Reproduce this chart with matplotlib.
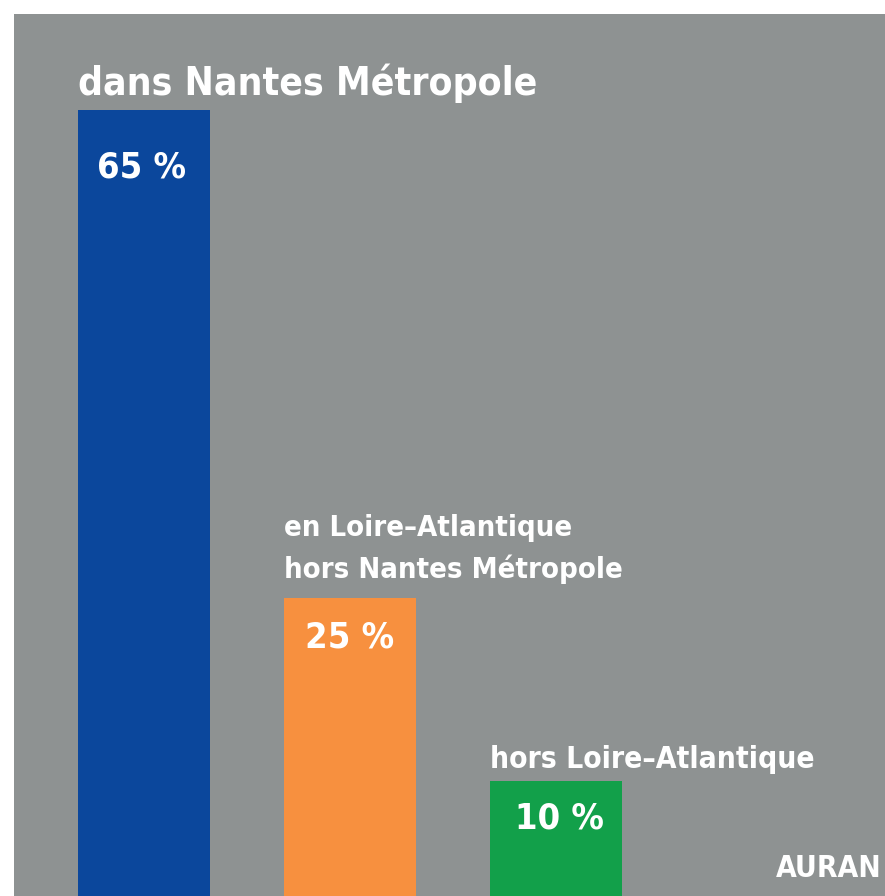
import matplotlib.pyplot as plt

labels = ["dans Nantes Métropole",
          "en Loire–Atlantique\nhors Nantes Métropole",
          "hors Loire–Atlantique"]
values = [65, 25, 10]
pct_labels = ["65 %", "25 %", "10 %"]
colors = ["#0b479c", "#f7903f", "#12a04a"]

plt.rcParams['font.family'] = ['DejaVu Sans']

fig = plt.figure(figsize=(8.85, 8.96), dpi=100)
fig.patch.set_facecolor("white")
ax = fig.add_axes([14/885, 0, 871/885, 882/896])
ax.set_facecolor("#8e9292")

x = list(range(len(values)))
w = 0.64
ax.bar(x, values, width=w, color=colors, align='center')
ax.set_xlim(-0.632, 3.60)
ax.set_ylim(0.57, 72.9)
for s in ax.spines.values():
    s.set_visible(False)
ax.set_xticks([])
ax.set_yticks([])

# offsets in pixels (label above bar, percentage inside)
lab_size = [28, 21, 21.5]
lab_dy = [15, 20, 13]
pct_dx = [19, 21, 25]
pct_dy = [-67, -49, -47]
for i, v in enumerate(values):
    left = x[i] - w/2
    ax.annotate(labels[i], (left, v), xytext=(0, lab_dy[i]),
                textcoords='offset pixels', ha='left', va='baseline',
                color='white', fontsize=lab_size[i], fontweight='bold',
                fontstretch='condensed', linespacing=1.55)
    ax.annotate(pct_labels[i], (left, v), xytext=(pct_dx[i], pct_dy[i]),
                textcoords='offset pixels', ha='left', va='baseline',
                color='white', fontsize=26, fontweight='bold',
                fontstretch='condensed')

fig.text(776/885, 1 - 877/896, "AURAN", color='white', fontsize=21.5,
         fontweight='bold', fontstretch='condensed', ha='left', va='baseline')

fig.savefig("out.png", dpi=100, facecolor=fig.get_facecolor())
